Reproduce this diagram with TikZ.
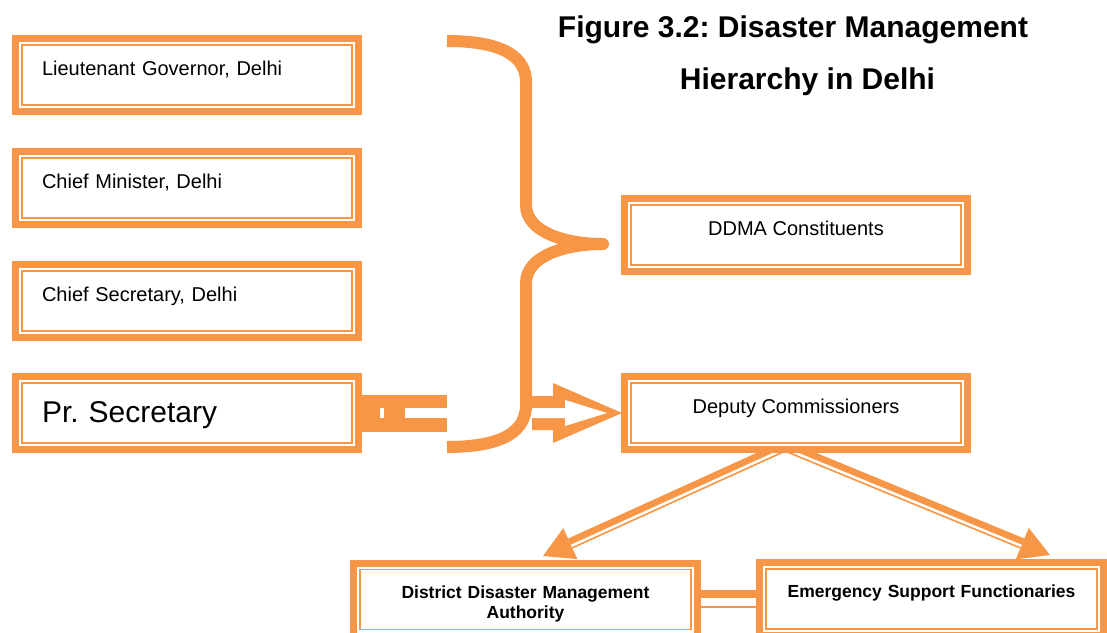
\documentclass[tikz,border=0pt]{standalone}
\usepackage{fontspec}
\setmainfont{Liberation Sans}
\usetikzlibrary{arrows.meta,calc}
\definecolor{acc}{HTML}{F79646}
\frenchspacing
\begin{document}
\begin{tikzpicture}[x=1pt,y=-1pt,
  box/.style={draw=acc, line width=7pt, fill=white, outer sep=0pt,
    minimum width=343pt, minimum height=73pt, inner ysep=0pt, inner xsep=0pt},
  lbox/.style={box, text width=290pt, inner xsep=26.5pt, align=left,
    font=\fontsize{20}{24}\selectfont, text height=15pt, text depth=15pt},
  cbox/.style={box, align=center, font=\fontsize{20}{24}\selectfont,
    text height=15pt, text depth=15pt},
  bbox/.style={box, minimum width=344pt, text width=330pt, align=center,
    font=\bfseries\fontsize{17.5}{20}\selectfont, text height=20pt, text depth=23pt},
  inner/.style={draw=acc, line width=1.6pt},
  ttl/.style={anchor=base, font=\bfseries\fontsize{30}{36}\selectfont},
  dbl/.style={draw=acc, line width=11pt, -{Triangle[length=30pt,width=34pt,line width=0pt]}},
  gap/.style={draw=white, line width=2.5pt, shorten >=30pt}
]
\useasboundingbox (0,0) rectangle (1107,632);
\clip (0,0) rectangle (1107,632);

% title
\node[ttl] (t1) at (793,37) {Figure 3.2: Disaster Management};
\node[ttl] (t2) at (807.5,89) {Hierarchy in Delhi};

% brace
\draw[acc, line width=12pt, line join=round]
  (447,41) .. controls (505,41) and (526,58) .. (526,82) -- (526,205)
  .. controls (526,232) and (565,244) .. (603,244)
  .. controls (565,244) and (526,256) .. (526,283) -- (526,405)
  .. controls (526,430) and (505,447) .. (447,447);

% hollow block arrow from brace to Deputy Commissioners
\fill[acc] (532,396) -- (553,396) -- (553,383) -- (622,413) -- (553,443)
  -- (553,430) -- (532,430) -- cycle;
\fill[white] (532,408) -- (565,408) -- (565,400) -- (607,413) -- (565,426)
  -- (565,418) -- (532,418) -- cycle;

% arrows from Deputy Commissioners
\coordinate (apex) at (785,446);
\coordinate (ltip) at (543,556);
\coordinate (rtip) at (1050,555);
\draw[dbl] (apex) -- (ltip);
\draw[dbl] (apex) -- (rtip);
\draw[gap] ($(apex)!2.5pt!90:(ltip)$) -- ($(ltip)!2.5pt!-90:(apex)$);
\draw[gap] ($(apex)!2.5pt!-90:(rtip)$) -- ($(rtip)!2.5pt!90:(apex)$);

% boxes
\node[lbox] (lg) at (187,75) {Lieutenant Governor, Delhi};
\node[lbox] (cm) at (187,188) {Chief Minister, Delhi};
\node[lbox] (cs) at (187,301) {Chief Secretary, Delhi};
\node[lbox, font=\fontsize{30}{36}\selectfont, text height=30pt, text depth=12pt] (ps) at (187,413) {Pr. Secretary};
\node[cbox] (ddma) at (796,235) {DDMA Constituents};
\node[cbox] (dc) at (796,413) {Deputy Commissioners};
\node[bbox] (ddm) at (525.5,599.5) {District Disaster Management\\Authority};
\node[bbox] (esf) at (931.5,599) {Emergency Support Functionaries};

% connector between the bottom boxes
\draw[acc, line width=8pt] ([yshift=5.5pt]ddm.east) -- ([yshift=5.5pt]ddm.east -| esf.west);
\draw[acc, line width=2pt] ([yshift=-7.5pt]ddm.east) -- ([yshift=-7.5pt]ddm.east -| esf.west);

\foreach \n in {lg,cm,cs,ps,ddma,dc,ddm,esf}
  \draw[inner] ([shift={(6.5pt,-6.5pt)}]\n.north west) rectangle ([shift={(-6.5pt,6.5pt)}]\n.south east);

% Pr. Secretary connector
\coordinate (psend) at (447,413);
\fill[acc] ([yshift=18pt]ps.east) rectangle ([yshift=-19pt]psend);
\fill[white] (405,408) rectangle ([yshift=-5pt]psend);
\fill[white] (380,408) rectangle (383.5,418);
\end{tikzpicture}
\end{document}
